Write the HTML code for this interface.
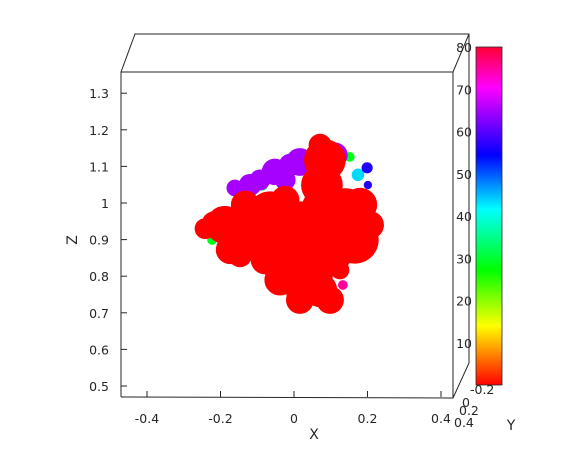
<!DOCTYPE html>
<html><head><meta charset="utf-8"><style>
body{margin:0;background:#fff;}
svg{display:block;font-family:"DejaVu Sans","Liberation Sans",sans-serif;font-size:12.5px;fill:#262626;}
</style></head><body>
<svg id="chart" width="570" height="450" viewBox="0 0 570 450">
<defs><linearGradient id="cb" x1="0" y1="1" x2="0" y2="0">
<stop offset="0" stop-color="#ff0000"/><stop offset="0.175" stop-color="#ffff00"/>
<stop offset="0.34" stop-color="#00ff00"/><stop offset="0.52" stop-color="#00ffff"/>
<stop offset="0.68" stop-color="#0000ff"/><stop offset="0.88" stop-color="#ff00ff"/>
<stop offset="1" stop-color="#ff0033"/></linearGradient></defs>
<g id="box" stroke="#262626" fill="none" stroke-width="1">
<polyline points="121,397 121,72 453,72 453,398 121,397"/>
<polyline points="121,72 135,34 469,34 453,72"/>
<polyline points="469,34 469,363 453,398"/>
</g>
<g id="marks"></g>
<g id="ticks"></g>
<rect x="476" y="47" width="26" height="338" fill="url(#cb)" stroke="#262626" stroke-width="0.8"/>
<text x="314" y="439" text-anchor="middle" font-size="14">X</text>
<text x="77" y="240" text-anchor="middle" font-size="14" transform="rotate(-90 77 240)">Z</text>
<text x="511" y="430" text-anchor="middle" font-size="14">Y</text>
<text x="470" y="394">-0.2</text>
<text x="462" y="407">0</text>
<text x="459" y="415">0.2</text>
<text x="454" y="427">0.4</text>
</svg>
<script>
const xTicks=[-0.4,-0.2,0,0.2,0.4];
const zTicks=[0.5,0.6,0.7,0.8,0.9,1,1.1,1.2,1.3];
const cTicks=[10,20,30,40,50,60,70,80];
const ptX=[-0.169,-0.155,-0.087,-0.223,0.152,0.174,0.199,0.201,0.071,0.133,-0.120,-0.052,0.016,0.112,-0.161,-0.093,-0.011,-0.024,
-0.188,-0.120,-0.174,-0.065,0.016,-0.011,0.044,0.016,0.071,0.084,0.076,0.084,0.139,0.166,0.180,0.098,-0.079,-0.133,0.071,0.125,-0.024,-0.242,
-0.215,-0.147,-0.038,0.098,0.207,0.016];
const ptZ=[1.036,1.036,1.049,0.899,1.126,1.077,1.096,1.049,1.172,0.776,1.049,1.085,1.112,1.131,1.041,1.063,1.104,1.063,
0.940,0.913,0.872,0.967,0.940,0.872,0.817,0.762,0.762,1.117,1.049,0.981,0.967,0.899,0.995,0.872,0.844,0.995,1.158,0.817,1.008,0.930,
0.940,0.858,0.790,0.735,0.940,0.735];
const ptR=[0.011,0.014,0.016,0.014,0.014,0.018,0.016,0.012,0.018,0.014,0.032,0.038,0.040,0.036,0.024,0.030,0.032,0.030,
0.055,0.068,0.041,0.068,0.068,0.082,0.068,0.041,0.049,0.060,0.060,0.068,0.077,0.068,0.049,0.068,0.041,0.041,0.033,0.027,0.041,0.030,
0.040,0.035,0.045,0.040,0.040,0.040];
const ptY=[8,28,28,28,28,42,55,55,72,72,62,62,62,62,62,62,62,62,
0,0,0,0,0,0,0,0,0,0,0,0,0,0,0,0,0,0,0,0,0,0,
0,0,0,0,0,0];
const NS="http://www.w3.org/2000/svg";
const sx=x=>294+x*367.5, sz=z=>203-(z-1)*366, sr=r=>r*366*0.95, sc=v=>385-v*4.225;
const col=v=>`hsl(${Math.min(359,v*4.5)},100%,50%)`;
const marks=document.getElementById('marks');
for(let i=0;i<ptX.length;i++){const c=document.createElementNS(NS,'circle');


c.setAttribute('cx',sx(ptX[i]));c.setAttribute('cy',sz(ptZ[i]));c.setAttribute('r',sr(ptR[i]));c.setAttribute('fill',col(ptY[i]));marks.appendChild(c);}
const ticks=document.getElementById('ticks');
function t(x,y,s,a){const e=document.createElementNS(NS,'text');


e.setAttribute('x',x);e.setAttribute('y',y);e.setAttribute('text-anchor',a);e.textContent=s;ticks.appendChild(e);}
function l(x1,y1,x2,y2){const e=document.createElementNS(NS,'line');


e.setAttribute('x1',x1);e.setAttribute('y1',y1);e.setAttribute('x2',x2);e.setAttribute('y2',y2);e.setAttribute('stroke','#262626');ticks.appendChild(e);}
xTicks.forEach(v=>{l(sx(v),397,sx(v),391);t(sx(v),423,String(v),'middle');});
zTicks.forEach(v=>{l(121,sz(v),127,sz(v));t(109,sz(v)+5,String(v),'end');});
cTicks.forEach(v=>{t(472,sc(v)+5,String(v),'end');});
</script>
</body></html>
